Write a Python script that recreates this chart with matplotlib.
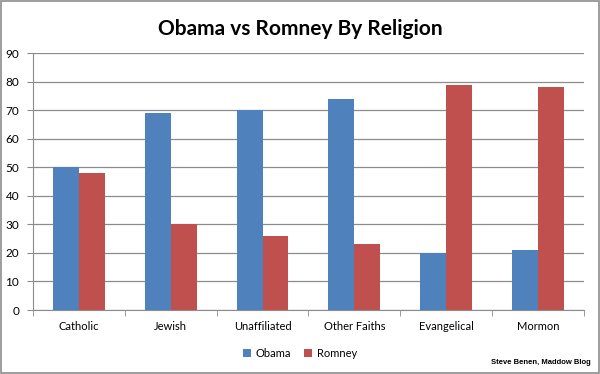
import numpy as np
import matplotlib
matplotlib.use("Agg")
import matplotlib.pyplot as plt
from matplotlib.patches import Rectangle

categories = ["Catholic", "Jewish", "Unaffiliated", "Other Faiths", "Evangelical", "Mormon"]
obama = [50, 69, 70, 74, 20, 21]
romney = [48, 30, 26, 23, 79, 78]
yticks = list(range(0, 91, 10))

plt.rcParams['font.family'] = ['Lato', 'DejaVu Sans']

fig = plt.figure(figsize=(6, 3.74), dpi=100)
ax = fig.add_axes([0.055, 0.171, 0.918, 0.687])

x = np.arange(len(categories))
w = 0.283
ax.bar(x - w/2, obama, w, color='#4F81BD', label='Obama', zorder=3)
ax.bar(x + w/2, romney, w, color='#C0504D', label='Romney', zorder=3)

ax.set_xlim(-0.5, len(categories) - 0.5)
ax.set_ylim(0, 90)
ax.set_yticks(yticks)
ax.yaxis.grid(True, color='#8c8c8c', linewidth=0.9, zorder=0)
ax.set_xticks(x)
ax.set_xticklabels(categories, fontsize=8)
ax.tick_params(axis='x', length=0, pad=8)
ax.tick_params(axis='y', labelsize=8.5, length=4, color='#8c8c8c', pad=6)
ax.set_xticks(np.arange(-0.5, len(categories)), minor=True)
ax.tick_params(axis='x', which='minor', length=4, color='#8c8c8c', direction='out')

for s in ['top', 'right']:
    ax.spines[s].set_visible(False)
ax.spines['left'].set_color('#8c8c8c')
ax.spines['bottom'].set_color('#8c8c8c')

fig.suptitle("Obama vs Romney By Religion", fontsize=15, fontweight='bold', y=0.95)

leg = fig.legend(loc='center', bbox_to_anchor=(0.5, 0.055), ncol=2, frameon=False,
                 fontsize=8, handlelength=0.7, handleheight=0.7, handletextpad=0.4,
                 columnspacing=1.2)

fig.text(0.985, 0.022, "Steve Benen, Maddow Blog", ha='right', va='bottom',
         fontsize=5.5, fontweight='bold', family=['Liberation Sans', 'DejaVu Sans'])

fig.patches.append(Rectangle((0.002, 0.003), 0.996, 0.994, transform=fig.transFigure,
                             fill=False, edgecolor='#8c8c8c', linewidth=1.2))

fig.savefig("out.png", dpi=100)
